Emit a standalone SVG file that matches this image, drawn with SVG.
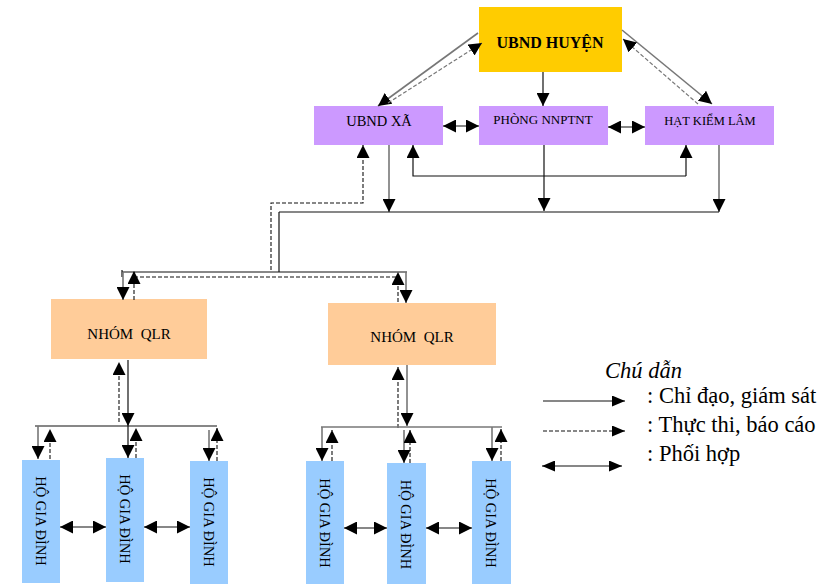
<svg xmlns="http://www.w3.org/2000/svg" width="838" height="584" viewBox="0 0 838 584">
<style>
  text { font-family: "Liberation Serif", "Times New Roman", serif; fill: #000; }
  .lbl { text-anchor: middle; }
  .s { fill: none; stroke: #111; stroke-width: 1.2; }
  .g { fill: none; stroke: #777; stroke-width: 1.6; }
  .d { fill: none; stroke: #111; stroke-width: 1.1; stroke-dasharray: 4,2; }
  .dg { fill: none; stroke: #777; stroke-width: 1.2; stroke-dasharray: 4,2; }
  .a { marker-end: url(#ah); }
  .aa { marker-end: url(#ah); marker-start: url(#ah); }
  .hgd { font-size: 14.5px; text-anchor: middle; }
  .leg { font-size: 22.5px; }
</style>
<defs>
  <marker id="ah" markerUnits="userSpaceOnUse" markerWidth="13" markerHeight="13" viewBox="0 0 13 13" refX="13" refY="6.5" orient="auto-start-reverse">
    <path d="M0,0 L13,6.5 L0,13 z" fill="#000"/>
  </marker>
  <marker id="ahs" markerUnits="userSpaceOnUse" markerWidth="13" markerHeight="11" viewBox="0 0 13 11" refX="13" refY="5.5" orient="auto-start-reverse">
    <path d="M0,0 L13,5.5 L0,11 z" fill="#000"/>
  </marker>
</defs>

<g id="node-ubnd-huyen">
  <rect x="479" y="7" width="143" height="65" fill="#FFCC00"/>
  <text class="lbl" x="550" y="47.5" font-size="16" font-weight="bold">UBND HUYỆN</text>
</g>
<g id="node-ubnd-xa">
  <rect x="314" y="106" width="129" height="39" fill="#CC99FF"/>
  <text class="lbl" x="379" y="126" font-size="14.5">UBND XÃ</text>
</g>
<g id="node-phong">
  <rect x="479" y="106" width="129" height="39" fill="#CC99FF"/>
  <text class="lbl" x="543" y="124" font-size="13">PHÒNG NNPTNT</text>
</g>
<g id="node-hat">
  <rect x="645" y="106" width="129" height="39" fill="#CC99FF"/>
  <text class="lbl" x="710" y="124.5" font-size="12.5">HẠT KIỂM LÂM</text>
</g>
<g id="node-nhom-1">
  <rect x="51" y="299" width="156" height="60" fill="#FFCC99"/>
  <text class="lbl" x="129" y="339" font-size="15" style="white-space:pre">NHÓM  QLR</text>
</g>
<g id="node-nhom-2">
  <rect x="328" y="303" width="168" height="62" fill="#FFCC99"/>
  <text class="lbl" x="412" y="342" font-size="15" style="white-space:pre">NHÓM  QLR</text>
</g>
<g id="node-hgd-1">
  <rect x="22" y="460" width="38" height="123" fill="#99CCFF"/>
  <text class="hgd" transform="translate(41,521) rotate(90)" dy="0.35em">HỘ GIA ĐÌNH</text>
</g>
<g id="node-hgd-2">
  <rect x="106" y="458" width="38" height="124" fill="#99CCFF"/>
  <text class="hgd" transform="translate(125,519) rotate(90)" dy="0.35em">HỘ GIA ĐÌNH</text>
</g>
<g id="node-hgd-3">
  <rect x="190" y="461" width="38" height="123" fill="#99CCFF"/>
  <text class="hgd" transform="translate(209,522) rotate(90)" dy="0.35em">HỘ GIA ĐÌNH</text>
</g>
<g id="node-hgd-4">
  <rect x="306" y="461" width="38" height="123" fill="#99CCFF"/>
  <text class="hgd" transform="translate(325,523) rotate(90)" dy="0.35em">HỘ GIA ĐÌNH</text>
</g>
<g id="node-hgd-5">
  <rect x="387" y="463" width="39" height="121" fill="#99CCFF"/>
  <text class="hgd" transform="translate(406.5,524.5) rotate(90)" dy="0.35em">HỘ GIA ĐÌNH</text>
</g>
<g id="node-hgd-6">
  <rect x="472" y="461" width="39" height="123" fill="#99CCFF"/>
  <text class="hgd" transform="translate(491.5,523) rotate(90)" dy="0.35em">HỘ GIA ĐÌNH</text>
</g>

<g id="connectors">
  <!-- top level -->
  <line class="s a" x1="543" y1="72" x2="543" y2="106"/>
  <line class="g a" x1="478" y1="33" x2="378" y2="106"/>
  <line class="dg a" x1="388" y1="103" x2="482" y2="43"/>
  <line class="g a" x1="622" y1="30" x2="712" y2="104"/>
  <line class="dg a" x1="698" y1="104" x2="623" y2="39"/>
  <line class="s aa" x1="443" y1="126" x2="479" y2="126"/>
  <line class="s aa" x1="608" y1="127" x2="645" y2="127"/>

  <!-- below second level -->
  <polyline class="d a" points="271,270 271,203 363,203 363,145"/>
  <line class="g a" x1="389" y1="145" x2="389" y2="212"/>
  <polyline class="s a" points="686,176 413,176 413,145"/>
  <line class="s a" x1="686" y1="176" x2="686" y2="145"/>
  <line class="s a" x1="544" y1="145" x2="544" y2="211"/>
  <line class="g a" x1="719" y1="145" x2="719" y2="212"/>
  <line class="s" x1="279" y1="212" x2="719" y2="212"/>
  <line class="s" x1="279" y1="212" x2="279" y2="272"/>
  <line class="s" x1="122" y1="272" x2="407" y2="272"/>
  <line class="s" x1="122" y1="270" x2="122" y2="277"/>
  <line class="d" x1="134" y1="277" x2="398" y2="277"/>
  <line class="g a" x1="123" y1="272" x2="123" y2="300"/>
  <line class="d a" x1="134" y1="300" x2="134" y2="271"/>
  <line class="g a" x1="406" y1="272" x2="406" y2="303"/>
  <line class="d a" x1="398" y1="302" x2="398" y2="272"/>

  <!-- left group -->
  <line class="s a" x1="128" y1="360" x2="128" y2="426"/>
  <line class="d a" x1="119" y1="422" x2="119" y2="362"/>
  <line class="s" x1="35" y1="426" x2="217" y2="426"/>
  <line class="g a" x1="38" y1="426" x2="38" y2="459"/>
  <line class="d a" x1="50" y1="459" x2="50" y2="429"/>
  <line class="s a" x1="128" y1="426" x2="128" y2="458"/>
  <line class="d a" x1="136" y1="458" x2="136" y2="428"/>
  <line class="g a" x1="209" y1="430" x2="209" y2="461"/>
  <line class="d a" x1="217" y1="461" x2="217" y2="428"/>
  <line class="s aa" x1="60" y1="527" x2="106" y2="527"/>
  <line class="s aa" x1="144" y1="527" x2="190" y2="527"/>

  <!-- right group -->
  <line class="g a" x1="407" y1="365" x2="407" y2="426"/>
  <line class="d a" x1="398" y1="428" x2="398" y2="367"/>
  <line class="g" x1="321" y1="427" x2="502" y2="427"/>
  <line class="g a" x1="322" y1="427" x2="322" y2="461"/>
  <line class="d a" x1="332" y1="461" x2="332" y2="430"/>
  <line class="g a" x1="404" y1="430" x2="404" y2="463"/>
  <line class="d a" x1="410" y1="463" x2="410" y2="430"/>
  <line class="g a" x1="492" y1="427" x2="492" y2="461"/>
  <line class="d a" x1="501" y1="461" x2="501" y2="429"/>
  <line class="s aa" x1="344" y1="528" x2="387" y2="528"/>
  <line class="s aa" x1="426" y1="528" x2="472" y2="528"/>
</g>

<g id="legend">
  <text class="leg" x="605" y="378" font-style="italic">Chú dẫn</text>
  <line x1="543" y1="401" x2="625" y2="401" stroke="#111" stroke-width="1.2" marker-end="url(#ahs)"/>
  <text class="leg" x="647" y="403">: Chỉ đạo, giám sát</text>
  <line x1="543" y1="431" x2="625" y2="431" stroke="#111" stroke-width="1.1" stroke-dasharray="4,2" marker-end="url(#ahs)"/>
  <text class="leg" x="647" y="432">: Thực thi, báo cáo</text>
  <line x1="542" y1="466" x2="622" y2="466" stroke="#111" stroke-width="1.2" marker-start="url(#ahs)" marker-end="url(#ahs)"/>
  <text class="leg" x="647" y="461">: Phối hợp</text>
</g>
</svg>
